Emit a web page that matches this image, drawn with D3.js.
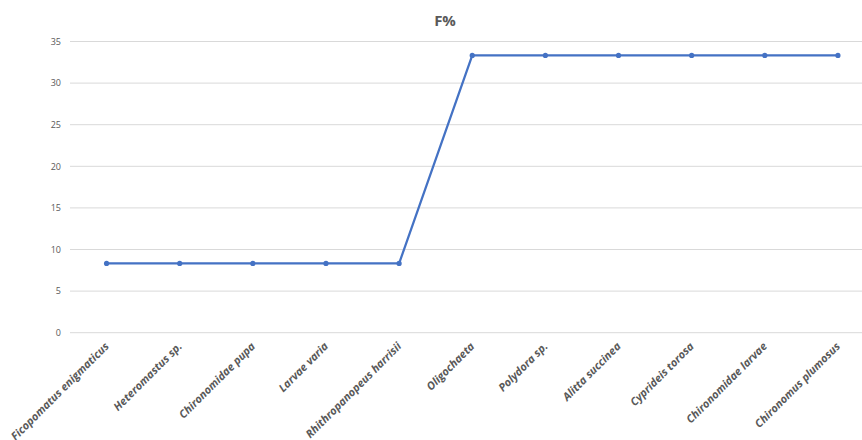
<!DOCTYPE html>
<html><head><meta charset="utf-8">
<script src="https://cdn.jsdelivr.net/npm/d3@7"></script>
<style>body{margin:0;background:#fff;} svg{display:block;font-family:"Open Sans",sans-serif;}</style>
</head><body><svg id="c" width="862" height="440"></svg>
<script>
const categories = ["Ficopomatus enigmaticus","Heteromastus sp.","Chironomidae pupa","Larvae varia","Rhithropanopeus harrisii","Oligochaeta","Polydora sp.","Alitta succinea","Cyprideis torosa","Chironomidae larvae","Chironomus plumosus"];
const values = [8.33,8.33,8.33,8.33,8.33,33.33,33.33,33.33,33.33,33.33,33.33];
const yTicks = [0,5,10,15,20,25,30,35];
const title = "F%";

const svg = d3.select("#c");
const x = d3.scaleBand().domain(categories).range([70, 874.5]);
const y = d3.scaleLinear().domain([0,35]).range([332.7, 41.5]);
const grey = "#595959";

svg.append("g").selectAll("line").data(yTicks).join("line")
  .attr("x1",70).attr("x2",862)
  .attr("y1",d=>y(d)).attr("y2",d=>y(d))
  .attr("stroke","#d9d9d9").attr("stroke-width",1);

const yAxis = d3.axisLeft(y).tickValues(yTicks).tickSize(0).tickPadding(0);
const gy = svg.append("g").attr("transform","translate(61,0)").call(yAxis);
gy.select(".domain").remove();
gy.selectAll("text").attr("fill",grey).attr("font-size",9).attr("font-family","Open Sans, sans-serif");

const cx = d => x(d) + x.bandwidth()/2;
svg.append("g").selectAll("text").data(categories).join("text")
  .attr("transform", d => `translate(${cx(d)+3},${347}) rotate(-45)`)
  .attr("text-anchor","end")
  .attr("font-size",11).attr("font-weight","bold").attr("font-style","italic")
  .attr("fill",grey).text(d=>d);

const line = d3.line().x((d,i)=>cx(categories[i])).y(d=>y(d));
svg.append("path").datum(values).attr("d",line)
  .attr("fill","none").attr("stroke","#4472C4").attr("stroke-width",2.25).attr("stroke-linejoin","round");
svg.append("g").selectAll("circle").data(values).join("circle")
  .attr("cx",(d,i)=>cx(categories[i])).attr("cy",d=>y(d)).attr("r",2.6).attr("fill","#4472C4");

svg.append("text").attr("x",445).attr("y",26).attr("text-anchor","middle")
  .attr("font-size",15).attr("font-weight","bold").attr("fill",grey).text(title);
</script></body></html>
